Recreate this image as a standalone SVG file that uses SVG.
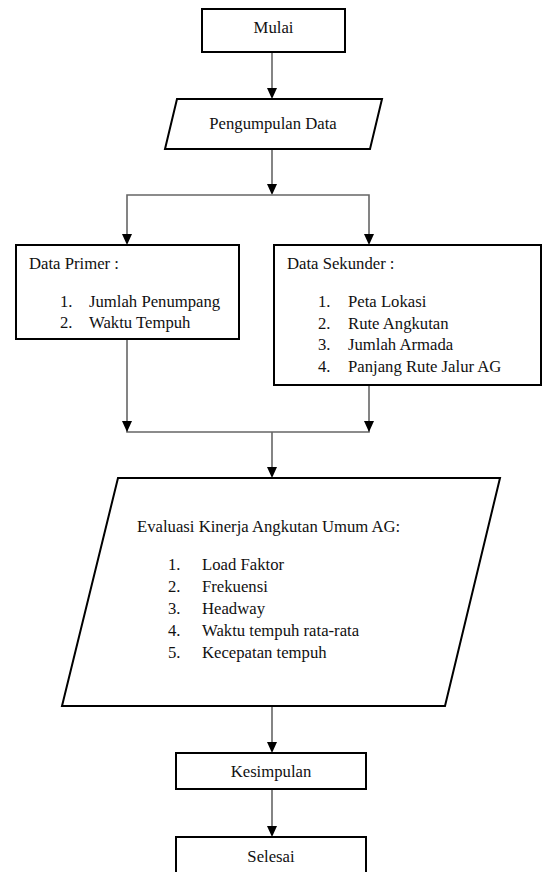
<svg xmlns="http://www.w3.org/2000/svg" width="560" height="872" viewBox="0 0 560 872">
<style>
.box{fill:#fff;stroke:#000;stroke-width:2}
.ln{fill:none;stroke:#666;stroke-width:1.6}
.ah{fill:#000}
.t{font-family:'Liberation Serif','Times New Roman','DejaVu Serif',serif;font-size:16.7px;fill:#111}
.c{text-anchor:middle}
</style>
<rect width="560" height="872" fill="#fff"/>
<g id="connectors">
<path class="ln" d="M272,52 V89"/>
<path class="ah" d="M267,88 L277,88 L272,99 Z"/>
<path class="ln" d="M272,149 V185"/>
<path class="ah" d="M267,184 L277,184 L272,195 Z"/>
<path class="ln" d="M127,235 V195 H369 V235"/>
<path class="ah" d="M122,234 L132,234 L127,245 Z"/>
<path class="ah" d="M364,234 L374,234 L369,245 Z"/>
<path class="ln" d="M127,339 V432 H369 V385"/>
<path class="ah" d="M122,421 L132,421 L127,432 Z"/>
<path class="ah" d="M364,421 L374,421 L369,432 Z"/>
<path class="ln" d="M272,432 V468"/>
<path class="ah" d="M267,467 L277,467 L272,478 Z"/>
<path class="ln" d="M272,706 V743"/>
<path class="ah" d="M267,742 L277,742 L272,753 Z"/>
<path class="ln" d="M272,789 V827"/>
<path class="ah" d="M267,826 L277,826 L272,837 Z"/>
</g>
<g class="t" font-family="Liberation Serif, Times New Roman, serif">
<g id="mulai">
<rect class="box" x="202" y="9" width="143" height="43"/>
<text class="c" x="273.5" y="33">Mulai</text>
</g>
<g id="pengumpulan">
<polygon class="box" points="177,99 382,99 370,149 165,149"/>
<text class="c" x="273" y="129">Pengumpulan Data</text>
</g>
<g id="primer">
<rect class="box" x="16" y="245" width="223" height="94"/>
<text x="29" y="269">Data Primer :</text>
<text x="60" y="307">1.</text><text x="89" y="307">Jumlah Penumpang</text>
<text x="60" y="328">2.</text><text x="89" y="328">Waktu Tempuh</text>
</g>
<g id="sekunder">
<rect class="box" x="274" y="245" width="267" height="140"/>
<text x="287" y="269">Data Sekunder :</text>
<text x="318" y="307">1.</text><text x="348" y="307">Peta Lokasi</text>
<text x="318" y="328.5">2.</text><text x="348" y="328.5">Rute Angkutan</text>
<text x="318" y="350">3.</text><text x="348" y="350">Jumlah Armada</text>
<text x="318" y="371.5">4.</text><text x="348" y="371.5">Panjang Rute Jalur AG</text>
</g>
<g id="evaluasi">
<polygon class="box" points="118,478 500,478 445,706 62,706"/>
<text x="137" y="532">Evaluasi Kinerja Angkutan Umum AG:</text>
<text x="168" y="570">1.</text><text x="202" y="570">Load Faktor</text>
<text x="168" y="592">2.</text><text x="202" y="592">Frekuensi</text>
<text x="168" y="614">3.</text><text x="202" y="614">Headway</text>
<text x="168" y="636">4.</text><text x="202" y="636">Waktu tempuh rata-rata</text>
<text x="168" y="658">5.</text><text x="202" y="658">Kecepatan tempuh</text>
</g>
<g id="kesimpulan">
<rect class="box" x="176" y="753" width="190" height="36"/>
<text class="c" x="271" y="777">Kesimpulan</text>
</g>
<g id="selesai">
<rect class="box" x="176" y="837" width="190" height="45"/>
<text class="c" x="271" y="862">Selesai</text>
</g>
</g>
</svg>
